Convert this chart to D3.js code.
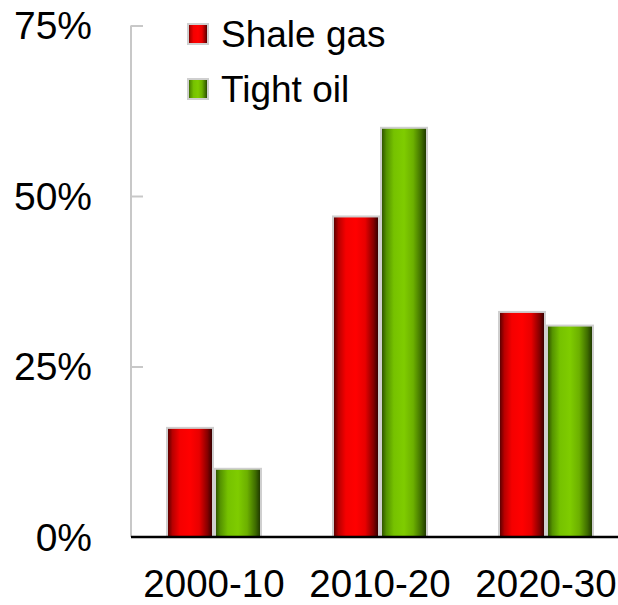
<!DOCTYPE html>
<html><head><meta charset="utf-8">
<script src="https://cdn.jsdelivr.net/npm/d3@7/dist/d3.min.js"></script>
<style>html,body{margin:0;padding:0;background:#fff;}svg{display:block;}</style>
</head><body>
<script>
const categories = ["2000-10", "2010-20", "2020-30"];
const seriesNames = ["Shale gas", "Tight oil"];
const shaleGas = [0.16, 0.47, 0.33];
const tightOil = [0.10, 0.60, 0.31];
const yTicks = [0, 0.25, 0.5, 0.75];
const tickLabels = ["0%", "25%", "50%", "75%"];

const W = 618, H = 605;
const svg = d3.select("body").append("svg").attr("width", W).attr("height", H);
const font = "Liberation Sans, Arial, sans-serif";

const defs = svg.append("defs");
function grad(id, stops) {
  const g = defs.append("linearGradient").attr("id", id).attr("x1", "0%").attr("x2", "100%").attr("y1", "0%").attr("y2", "0%");
  stops.forEach(s => g.append("stop").attr("offset", s[0]).attr("stop-color", s[1]));
}
grad("gRed", [["0%", "#4a0000"], ["12%", "#b80000"], ["28%", "#f50000"], ["50%", "#ff0000"], ["70%", "#e80000"], ["88%", "#850000"], ["100%", "#280000"]]);
grad("gGreen", [["0%", "#2a4800"], ["12%", "#559400"], ["28%", "#76c200"], ["50%", "#7fcc00"], ["70%", "#6cb000"], ["88%", "#3e6c00"], ["100%", "#1a3000"]]);
const fills = ["url(#gRed)", "url(#gGreen)"];

const x0 = d3.scaleBand().domain(categories).range([131, 629]);
const x1 = d3.scaleBand().domain(seriesNames).range([0, x0.bandwidth()]).paddingInner(2 / 48).paddingOuter(0.75);
const y = d3.scaleLinear().domain([0, 0.75]).range([537, 25.5]);

// y axis
const yAxis = svg.append("g").attr("transform", "translate(131,0)")
  .call(d3.axisRight(y).tickValues(yTicks.slice(1)).tickSize(12).tickFormat(""));
yAxis.select(".domain").remove();
yAxis.selectAll(".tick line").attr("stroke", "#c8c8c8").attr("stroke-width", 2);
svg.append("line").attr("x1", 131).attr("x2", 131).attr("y1", y(0.75)).attr("y2", y(0))
  .attr("stroke", "#c8c8c8").attr("stroke-width", 2);

svg.append("g").selectAll("text").data(yTicks).join("text")
  .attr("x", 92).attr("y", d => y(d)).attr("dy", "0.35em")
  .attr("text-anchor", "end").attr("font-family", font).attr("font-size", 39)
  .attr("fill", "#000").text((d, i) => tickLabels[i]);

// bars
const data = categories.map((c, i) => ({ c, vals: [shaleGas[i], tightOil[i]] }));
const groups = svg.append("g").selectAll("g").data(data).join("g")
  .attr("transform", d => `translate(${x0(d.c)},0)`);
groups.selectAll("rect").data(d => d.vals.map((v, j) => ({ v, s: seriesNames[j], j }))).join("rect")
  .attr("x", d => x1(d.s)).attr("width", x1.bandwidth())
  .attr("y", d => y(d.v)).attr("height", d => y(0) - y(d.v))
  .attr("fill", d => fills[d.j]).attr("stroke", "#cfcfcf").attr("stroke-width", 2);

// baseline
svg.append("line").attr("x1", 131).attr("x2", W).attr("y1", y(0)).attr("y2", y(0))
  .attr("stroke", "#000").attr("stroke-width", 2.5);

// x labels
svg.append("g").selectAll("text").data(categories).join("text")
  .attr("x", d => x0(d) + x0.bandwidth() / 2).attr("y", 597)
  .attr("text-anchor", "middle").attr("font-family", font).attr("font-size", 38.5)
  .attr("fill", "#000").text(d => d);

// legend
const leg = svg.append("g").selectAll("g").data(seriesNames).join("g")
  .attr("transform", (d, i) => `translate(188,${24 + i * 55})`);
leg.append("rect").attr("width", 20).attr("height", 20)
  .attr("fill", (d, i) => fills[i]).attr("stroke", "#cfcfcf").attr("stroke-width", 2);
leg.append("text").attr("x", 33).attr("y", 23).attr("font-family", font).attr("font-size", 37)
  .attr("fill", "#000").text(d => d);
</script>
</body></html>
